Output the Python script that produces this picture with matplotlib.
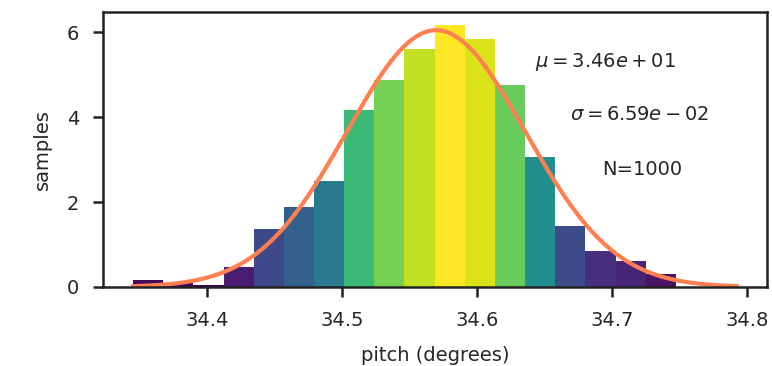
import numpy as np
import matplotlib
matplotlib.use("Agg")
import matplotlib.pyplot as plt
from matplotlib import cm

# Histogram (density)
bin_start = 34.3454
bin_width = 0.02233
densities = [0.16, 0.09, 0.04, 0.46, 1.36, 1.88, 2.49, 4.18, 4.89, 5.61,
             6.18, 5.84, 4.75, 3.06, 1.44, 0.84, 0.61, 0.31]
mu = 34.5698
sigma = 0.0659
n_samples = 1000
curve_range = (34.3454, 34.7925)
xticks = [34.4, 34.5, 34.6, 34.7, 34.8]
yticks = [0, 2, 4, 6]

edges = bin_start + bin_width * np.arange(len(densities) + 1)
heights = np.array(densities)

fig = plt.figure(figsize=(7.72, 3.66), dpi=100)
ax = fig.add_axes([0.1334, 0.216, 0.9935 - 0.1334, 0.968 - 0.216])

colors = cm.viridis(heights / heights.max())
ax.bar(edges[:-1], heights, width=bin_width, align="edge", color=colors, linewidth=0)

x = np.linspace(curve_range[0], curve_range[1], 300)
pdf = np.exp(-0.5 * ((x - mu) / sigma) ** 2) / (sigma * np.sqrt(2 * np.pi))
ax.plot(x, pdf, color="#ff7f50", linewidth=3)

ax.set_xticks(xticks)
ax.set_yticks(yticks)
ax.tick_params(direction="out", length=7.2, width=1.8, labelsize=14, pad=10,
               colors="#222222", labelcolor="#262626")
for s in ax.spines.values():
    s.set_linewidth(1.8)
    s.set_color("#222222")
ax.set_xlabel("pitch (degrees)", fontsize=14, color="#262626")
ax.set_ylabel("samples", fontsize=14, color="#262626")
ax.xaxis.set_label_coords(0.5, -0.2145)
ax.yaxis.set_label_coords(-0.0768, 0.5)

kw = dict(transform=ax.transAxes, fontsize=14, va="center", color="#262626")
ax.text(0.6506, 0.819, r"$\mu = %.2e$" % 34.6, **kw)
ax.text(0.703, 0.625, r"$\sigma = %.2e$" % sigma, **kw)
ax.text(0.7515, 0.425, "N=%d" % n_samples, **kw)

fig.savefig("out.png", dpi=100)
